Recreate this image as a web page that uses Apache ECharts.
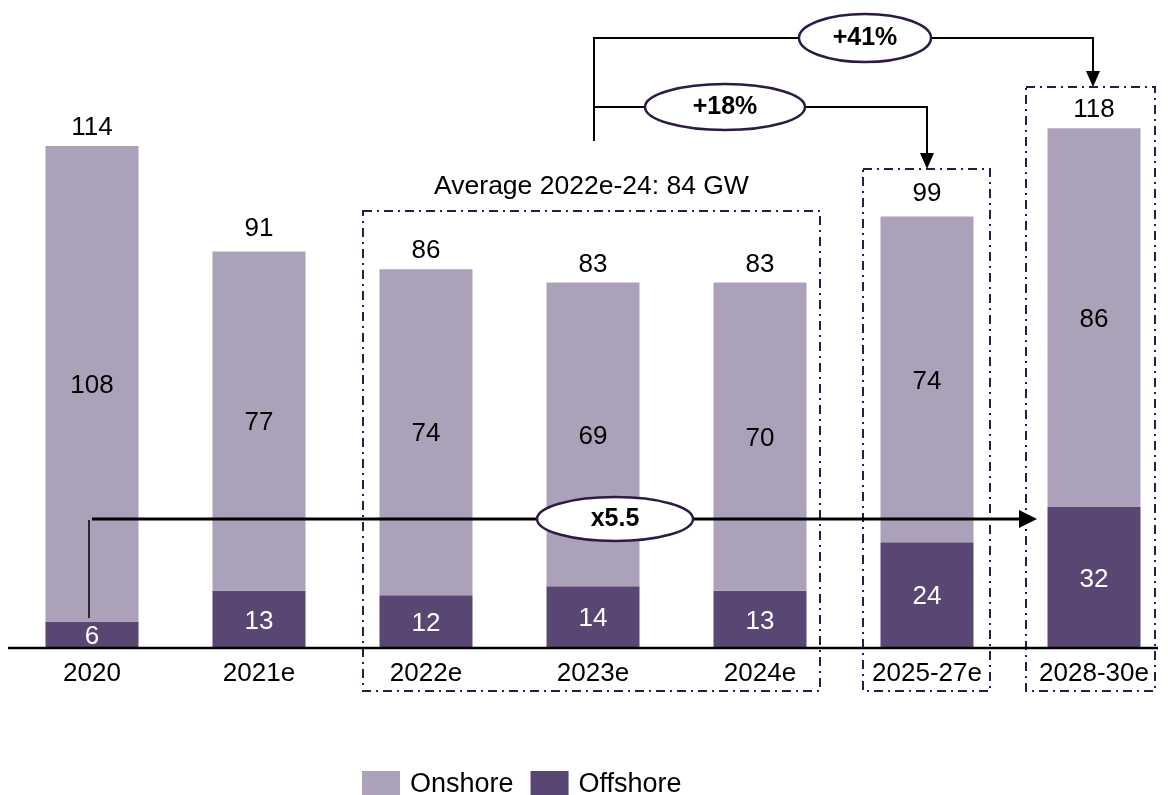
<!DOCTYPE html>
<html>
<head>
<meta charset="utf-8">
<script src="https://cdn.jsdelivr.net/npm/echarts@6/dist/echarts.min.js"></script>
<style>
  html, body { margin: 0; padding: 0; background: #fff; }
  #chart { width: 1168px; height: 795px; }
</style>
</head>
<body>
<div id="chart"></div>
<script>
// chart data
const categories = ['2020', '2021e', '2022e', '2023e', '2024e', '2025-27e', '2028-30e']
const onshore = [108, 77, 74, 69, 70, 74, 86]
const offshore = [6, 13, 12, 14, 13, 24, 32]
const totals = [114, 91, 86, 83, 83, 99, 118]

const FONT = 'Liberation Sans, Arial, sans-serif'
const ONSHORE_COLOR = '#aba2b9'
const OFFSHORE_COLOR = '#5a4673'
const BOX_COLOR = '#2e1a47'

const chart = echarts.init(document.getElementById('chart'))

const option = {
  animation: false,
  textStyle: { fontFamily: FONT },
  grid: { left: 8.5, width: 1169, top: 31.4, bottom: 147, outerBoundsMode: 'none', containLabel: false },
  legend: {
    data: ['Onshore', 'Offshore'],
    left: 357,
    top: 766,
    itemWidth: 38,
    itemHeight: 27,
    itemGap: 17,
    icon: 'rect',
    textStyle: { fontSize: 27, color: '#000', fontFamily: FONT, padding: [0, 0, 0, 5] }
  },
  xAxis: {
    type: 'category',
    data: categories,
    axisLine: { show: false },
    axisTick: { show: false },
    axisLabel: { fontSize: 26, color: '#000', margin: 13, fontFamily: FONT }
  },
  yAxis: {
    type: 'value',
    min: 0,
    max: 140,
    show: false,
    splitLine: { show: false }
  },
  series: [
    {
      name: 'Offshore',
      type: 'bar',
      stack: 'wind',
      barWidth: 93,
      data: offshore,
      itemStyle: { color: OFFSHORE_COLOR },
      label: { show: true, position: 'inside', color: '#fff', fontSize: 26, fontFamily: FONT, offset: [0, 2] }
    },
    {
      name: 'Onshore',
      type: 'bar',
      stack: 'wind',
      barWidth: 93,
      data: onshore,
      itemStyle: { color: ONSHORE_COLOR },
      label: { show: true, position: 'inside', color: '#000', fontSize: 26, fontFamily: FONT, offset: [0, 2] }
    },
    {
      name: 'Total',
      type: 'bar',
      barWidth: 93,
      barGap: '-100%',
      z: 1,
      data: totals,
      itemStyle: { color: 'rgba(0,0,0,0)' },
      label: { show: true, position: 'top', distance: 5, color: '#000', fontSize: 26, fontFamily: FONT },
      silent: true
    }
  ]
}

chart.setOption(option)

// annotations, anchored on category centres
const cx = (i) => chart.convertToPixel({ xAxisIndex: 0 }, i)
const lineStyle = (w) => ({ stroke: '#000', lineWidth: w, fill: null })
const arrowDown = (x, tipY) => ({
  type: 'polygon',
  shape: { points: [[x - 7, tipY - 16], [x + 7, tipY - 16], [x, tipY]] },
  style: { fill: '#000' },
  z: 15
})
const dashBox = (x1, x2, y1, y2) => ({
  type: 'rect',
  shape: { x: x1, y: y1, width: x2 - x1, height: y2 - y1 },
  style: { stroke: BOX_COLOR, lineWidth: 2, fill: null, lineDash: [9, 5, 2, 5] },
  z: 10
})
const bubble = (x, y, rx, ry, text) => ([
  {
    type: 'ellipse',
    shape: { cx: x, cy: y, rx: rx, ry: ry },
    style: { fill: '#fff', stroke: BOX_COLOR, lineWidth: 2.5 },
    z: 20
  },
  {
    type: 'text',
    x: x,
    y: y,
    style: { text: text, fontSize: 25, fontWeight: 'bold', fill: '#000', align: 'center', verticalAlign: 'middle', fontFamily: FONT },
    z: 21
  }
])

const c0 = cx(0)
const c5 = cx(5)
const c6 = cx(6)
const startX = cx(3) + 1

const graphics = [
  // baseline
  { type: 'line', shape: { x1: 8, y1: 648, x2: 1158, y2: 648 }, style: lineStyle(2.5), z: 15 },
  // dash-dot boxes
  dashBox(cx(2) - 63, cx(4) + 60, 211, 691),
  dashBox(c5 - 64, c5 + 63, 169, 691),
  dashBox(c6 - 68, c6 + 61, 87, 691),
  {
    type: 'text',
    x: (cx(2) - 63 + cx(4) + 60) / 2,
    y: 187,
    style: { text: 'Average 2022e-24: 84 GW', fontSize: 26.5, fill: '#000', align: 'center', verticalAlign: 'middle', fontFamily: FONT },
    z: 10
  },
  // +41% connector
  { type: 'polyline', shape: { points: [[startX, 141], [startX, 38], [c6 - 1, 38], [c6 - 1, 72]] }, style: lineStyle(2), z: 15 },
  arrowDown(c6 - 1, 87),
  // +18% connector
  { type: 'polyline', shape: { points: [[startX, 107], [c5, 107], [c5, 154]] }, style: lineStyle(2), z: 15 },
  arrowDown(c5, 169),
  // x5.5 offshore arrow
  { type: 'line', shape: { x1: c0 - 3, y1: 520, x2: c0 - 3, y2: 618 }, style: lineStyle(1.5), z: 15 },
  { type: 'line', shape: { x1: c0, y1: 519, x2: c6 - 74, y2: 519 }, style: lineStyle(3), z: 15 },
  {
    type: 'polygon',
    shape: { points: [[c6 - 75, 510], [c6 - 75, 528], [c6 - 57, 519]] },
    style: { fill: '#000' },
    z: 15
  }
]
  .concat(bubble(865, 38, 66, 24, '+41%'))
  .concat(bubble(725, 107, 80, 23, '+18%'))
  .concat(bubble(615, 519, 78, 22, 'x5.5'))

chart.setOption({ graphic: graphics })
</script>
</body>
</html>
